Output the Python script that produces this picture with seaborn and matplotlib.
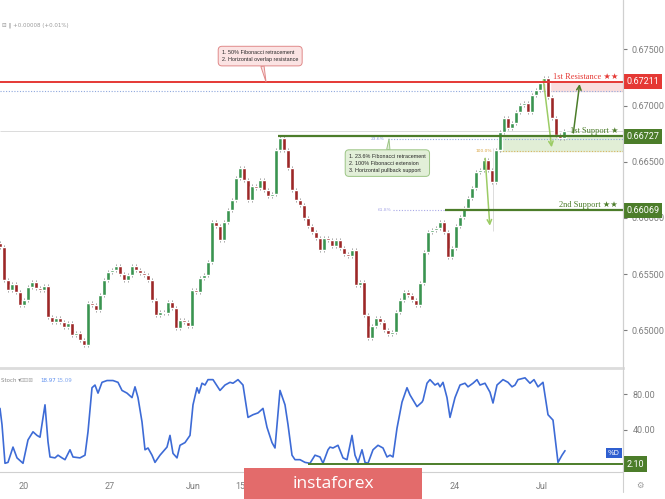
import numpy as np
import pandas as pd
import seaborn as sns
import matplotlib.pyplot as plt
from matplotlib.patches import Rectangle
from matplotlib.lines import Line2D

# 4H closes, one per bar (bar 0 = left edge of the chart)
closes = [0.65741, 0.65448, 0.65359, 0.65412, 0.65341, 0.65225, 0.65270, 0.65385, 0.65430, 0.65376,
          0.65359, 0.65394, 0.65118, 0.65074, 0.65109, 0.65074, 0.65029, 0.65065, 0.64958, 0.64976,
          0.64914, 0.64869, 0.65243, 0.65225, 0.65181, 0.65314, 0.65448, 0.65519, 0.65536, 0.65572,
          0.65501, 0.65448, 0.65492, 0.65572, 0.65536, 0.65510, 0.65492, 0.65448, 0.65270, 0.65136,
          0.65163, 0.65154, 0.65252, 0.65198, 0.65020, 0.65092, 0.65074, 0.65038, 0.65359, 0.65341,
          0.65465, 0.65492, 0.65608, 0.65963, 0.65928, 0.65803, 0.65963, 0.66070, 0.66159, 0.66355,
          0.66444, 0.66337, 0.66159, 0.66284, 0.66266, 0.66337, 0.66248, 0.66195, 0.66213, 0.66604,
          0.66711, 0.66604, 0.66444, 0.66248, 0.66159, 0.66115, 0.65999, 0.65928, 0.65875, 0.65821,
          0.65714, 0.65821, 0.65803, 0.65750, 0.65803, 0.65732, 0.65679, 0.65661, 0.65714, 0.65403,
          0.65430, 0.65136, 0.64931, 0.65038, 0.65109, 0.65074, 0.65003, 0.64967, 0.64985, 0.65163,
          0.65270, 0.65341, 0.65314, 0.65270, 0.65225, 0.65421, 0.65697, 0.65875, 0.65892, 0.65910,
          0.65963, 0.65875, 0.65652, 0.65732, 0.65928, 0.66008, 0.66088, 0.66177, 0.66266, 0.66408,
          0.66426, 0.66515, 0.66426, 0.66319, 0.66604, 0.66764, 0.66889, 0.66800, 0.66844, 0.66942,
          0.67004, 0.67022, 0.66942, 0.67093, 0.67138, 0.67200, 0.67245, 0.67076, 0.66889, 0.66738,
          0.66711, 0.66773]
first_open = 0.65780

# stochastic (bar position, value)
stoch_bar = [0, 0.5, 1.25, 2, 3.25, 4.25, 5.75, 7, 8.25, 9.25,
             10, 11.25, 12, 12.5, 13.75, 14.5, 15.5, 16.25, 17.5, 18.25,
             20, 21.25, 22, 23, 23.75, 24.5, 25.5, 26.75, 28.25, 29.5,
             30.5, 31.75, 33, 33.75, 34.5, 35.5, 36.25, 37, 38, 38.75,
             40, 41.75, 42.5, 43.25, 44.25, 45, 46.25, 47.5, 48.25, 49.25,
             49.75, 50.5, 51.25, 52, 53.25, 55, 56.25, 57.5, 58.25, 59.5,
             60.75, 62, 63.25, 64.5, 65.75, 66.75, 68, 68.75, 70, 71.25,
             72, 73, 73.75, 75, 76.25, 77.5, 78.75, 80, 80.75, 82,
             82.5, 83.25, 84.5, 85.75, 86.75, 88, 88.75, 89.5, 90.5, 91.25,
             92, 93.25, 94.5, 95.75, 96.75, 97.5, 98.25, 99.25, 100.5, 101.75,
             102.5, 104.25, 105.5, 105.75, 106.75, 107.5, 108.75, 109.5, 110, 110.75,
             111.75, 112.5, 113.75, 115, 116.25, 117, 118.25, 119.25, 120, 121.25,
             122.5, 123.25, 124.25, 125.75, 127, 128, 128.75, 129.5, 131.25, 132.5,
             133.5, 134.5, 135.75, 137, 138.25, 139.5, 140.5, 141.25]
stoch_val = [64, 46, 3, 4, 21, 9, 3, 29, 38, 34,
             32, 68, 27, 10, 9, 12, 9, 7, 18, 10,
             9, 12, 38, 87, 90, 81, 93, 95, 95, 93,
             84, 81, 76, 88, 76, 49, 18, 20, 12, 4,
             12, 21, 34, 14, 9, 23, 26, 34, 68, 87,
             81, 92, 90, 96, 96, 84, 90, 93, 92, 96,
             90, 54, 57, 59, 64, 43, 26, 20, 84, 68,
             46, 12, 7, 7, 4, 3, 12, 10, 3, 18,
             21, 20, 23, 9, 7, 34, 12, 4, 18, 4,
             3, 18, 23, 20, 10, 12, 10, 42, 71, 87,
             79, 66, 71, 73, 92, 96, 90, 92, 88, 93,
             76, 54, 76, 90, 92, 88, 92, 96, 90, 92,
             82, 70, 90, 96, 93, 88, 90, 96, 98, 92,
             96, 88, 93, 57, 51, 4, 12, 17]

# key levels
res1 = 0.67211
sup1 = 0.66727
sup2 = 0.66069
stoch_low = 2.10
fib50 = 0.67129
fib236 = 0.66702
fib100 = 0.66600
fib618 = 0.66069
last_price = 0.66773

price_ticks = [0.650, 0.655, 0.660, 0.665, 0.670, 0.675]
stoch_ticks = [40, 80]
date_pos = [6, 27.5, 48.25, 61.5, 113.75, 135.5]
date_lab = ['20', '27', 'Jun', '15:00', '24', 'Jul']

sns.set_style('white')
plt.rcParams['font.family'] = ['DejaVu Sans']

df = pd.DataFrame({'close': closes})
df['bar'] = np.arange(len(df))
df['open'] = df['close'].shift(1).fillna(first_open)
df['top'] = df[['open', 'close']].max(axis=1)
df['bot'] = df[['open', 'close']].min(axis=1)
wick = 0.00016
up_col, dn_col = '#3a9450', '#9c2727'
df['col'] = np.where(df['close'] >= df['open'], up_col, dn_col)

W, H = 665, 499
fig = plt.figure(figsize=(W / 100, H / 100), dpi=100)
ax = fig.add_axes([0, (H - 368) / H, 623 / W, 368 / H])
ax2 = fig.add_axes([0, (H - 472) / H, 623 / W, 101 / H])
xmax = 155.75

# candles
ax.vlines(df['bar'], df['bot'] - wick, df['top'] + wick, color='#9a9a9a', lw=0.7, zorder=2)
ax.bar(df['bar'], (df['top'] - df['bot']).clip(lower=0.00005), bottom=df['bot'],
       width=0.8, color=df['col'], zorder=3)

# zones and levels
ax.fill_between([135.75, xmax], fib50, res1, color='#f9dede', zorder=1)
ax.fill_between([124.5, xmax], fib100, sup1, color='#e1eed6', zorder=1)
ax.hlines(last_price, 0, xmax, color='#d6d6d6', lw=0.6, zorder=1)
ax.hlines(fib50, 0, xmax, color='#8fa8dd', lw=0.8, linestyles=(0, (1, 1.5)), zorder=1)
ax.hlines(fib236, 97, xmax, color='#8fa8dd', lw=0.8, linestyles=(0, (1, 1.5)), zorder=1)
ax.hlines(fib100, 124.25, xmax, color='#d9b35f', lw=0.8, linestyles=(0, (1, 1.5)), zorder=1)
ax.hlines(fib618, 98.25, 111.25, color='#a9a9e6', lw=0.8, linestyles=(0, (1, 1.5)), zorder=1)
ax.hlines(res1, 0, xmax, color='#e53935', lw=1.4, zorder=4)
ax.hlines(sup1, 69.5, xmax, color='#4c7d2a', lw=1.6, zorder=4)
ax.hlines(sup2, 111.25, xmax, color='#4c7d2a', lw=1.6, zorder=4)

ax.text(94.5, fib236, '23.6%', fontsize=3.2, color='#8a9ee0', ha='center', va='center')
ax.text(121, fib100, '100.0%', fontsize=3.2, color='#d9a441', ha='center', va='center')
ax.text(96.25, fib618, '61.8%', fontsize=3.2, color='#a6a6e6', ha='center', va='center')

serif = ['Liberation Serif', 'DejaVu Sans']
ax.text(154.5, res1 + 0.00008, '1st Resistance ★★', ha='right', va='bottom',
        color='#e53935', fontsize=6, family=serif, zorder=5)
ax.text(154.5, sup1 + 0.00008, '1st Support ★', ha='right', va='bottom',
        color='#4c7d2a', fontsize=6, family=serif, zorder=5)
ax.text(154.5, sup2 + 0.00008, '2nd Support ★★', ha='right', va='bottom',
        color='#4c7d2a', fontsize=6, family=serif, zorder=5)

# move arrows
ax.vlines(123.25, 0.65880, 0.66620, color='#cfcfcf', lw=0.5, zorder=2)
ax.annotate('', xy=(122.5, 0.65906), xytext=(121.25, 0.66555),
            arrowprops=dict(arrowstyle='->', color='#9ccc65', lw=1.1, mutation_scale=8))
ax.annotate('', xy=(138, 0.66604), xytext=(135.75, 0.67253),
            arrowprops=dict(arrowstyle='->', color='#9ccc65', lw=1.1, mutation_scale=8))
ax.annotate('', xy=(145, res1 + 0.00005), xytext=(143.25, sup1 + 0.00005),
            arrowprops=dict(arrowstyle='->', color='#4c7d2a', lw=1.1, mutation_scale=8))

# callouts
ax.annotate('1. 50% Fibonacci retracement\n2. Horizontal overlap resistance',
            xy=(66.5, res1), xytext=(55.5, 0.67440), ha='left', va='center',
            fontsize=3.9, family='Liberation Sans', linespacing=1.5, zorder=6,
            bbox=dict(boxstyle='round,pad=0.7', fc='#fbe3e3', ec='#e08a8a', lw=0.7),
            arrowprops=dict(arrowstyle='wedge,tail_width=0.6', fc='#fbe3e3', ec='#e08a8a',
                            lw=0.7, shrinkA=0, shrinkB=0))
ax.annotate('1. 23.6% Fibonacci retracement\n2. 100% Fibonacci extension\n3. Horizontal pullback support',
            xy=(97.25, fib236), xytext=(87.25, 0.66488), ha='left', va='center',
            fontsize=3.9, family='Liberation Sans', linespacing=1.5, zorder=6,
            bbox=dict(boxstyle='round,pad=0.7', fc='#e2efd8', ec='#9cc585', lw=0.7),
            arrowprops=dict(arrowstyle='wedge,tail_width=0.6', fc='#e2efd8', ec='#9cc585',
                            lw=0.7, shrinkA=0, shrinkB=0))

# right price boxes
for lvl, fc in [(res1, '#e53935'), (sup1, '#4c7d2a'), (sup2, '#4c7d2a')]:
    ax.text(1.005, lvl, f'{lvl:.5f}', transform=ax.get_yaxis_transform(), ha='left', va='center',
            color='white', fontsize=6.5, family='Roboto', clip_on=False, zorder=6,
            bbox=dict(boxstyle='square,pad=0.35', fc=fc, ec='none'))

ax.set_xlim(0, xmax)
ax.set_ylim(0.64665, 0.67939)
ax.yaxis.tick_right()
ax.set_yticks(price_ticks)
ax.set_yticklabels([f'{t:.5f}' for t in price_ticks])
ax.set_xticks([])
ax.tick_params(axis='y', length=3, pad=3, labelsize=6.5, colors='#7d7d7d')
for t in ax.get_yticklabels():
    t.set_family('Roboto')
for s in ['top', 'left']:
    ax.spines[s].set_visible(False)
ax.spines['right'].set_color('#d0d0d0')
ax.spines['right'].set_linewidth(0.8)
ax.spines['bottom'].set_color('#dcdcdc')
ax.spines['bottom'].set_linewidth(2)

# stochastic pane
sdf = pd.DataFrame({'bar': stoch_bar, 'val': stoch_val})
sns.lineplot(data=sdf, x='bar', y='val', ax=ax2, color='#3d6bd6', lw=1.2)
ax2.hlines(stoch_low, 77, xmax, color='#4c7d2a', lw=1.4, zorder=4)
ax2.text(153.5, 14.5, '%D', ha='center', va='center', color='white', fontsize=5, zorder=6,
         bbox=dict(boxstyle='square,pad=0.35', fc='#2f5fd0', ec='none'))
ax2.text(1.005, stoch_low, f'{stoch_low:.2f}', transform=ax2.get_yaxis_transform(), ha='left',
         va='center', color='white', fontsize=6.5, family='Roboto', clip_on=False, zorder=6,
         bbox=dict(boxstyle='square,pad=0.35', fc='#4c7d2a', ec='none'))
ax2.set_xlim(0, xmax)
ax2.set_ylim(-6.7, 105.6)
ax2.yaxis.tick_right()
ax2.set_yticks(stoch_ticks)
ax2.set_yticklabels([f'{t:.2f}' for t in stoch_ticks])
ax2.set_xticks(date_pos)
ax2.set_xticklabels(date_lab)
ax2.set_xlabel('')
ax2.set_ylabel('')
ax2.tick_params(axis='both', length=3, pad=4, labelsize=6.5, colors='#7d7d7d')
for t in ax2.get_yticklabels() + ax2.get_xticklabels():
    t.set_family('Roboto')
for s in ['top', 'left']:
    ax2.spines[s].set_visible(False)
for s in ['right', 'bottom']:
    ax2.spines[s].set_color('#d0d0d0')
    ax2.spines[s].set_linewidth(0.8)

# headers
fig.text(2 / W, 1 - 25 / H, '⊟ ‖ +0.00008 (+0.01%)', fontsize=4, color='#9a9a9a', va='center')
fig.text(1 / W, 1 - 380 / H, 'Stoch ▾', fontsize=4, color='#8a8a8a', va='center')
fig.text(20 / W, 1 - 380 / H, '⊟⊟⊠', fontsize=4, color='#b0b0b0', va='center')
fig.text(40 / W, 1 - 380 / H, '18.97', fontsize=4, color='#5b8def', va='center')
fig.text(56 / W, 1 - 380 / H, '15.09', fontsize=4, color='#7fa6f0', va='center')
fig.text(640 / W, 1 - 485 / H, '⚙', fontsize=6, color='#9a9a9a', ha='center', va='center')

# right border and watermark
fig.add_artist(Line2D([623 / W, 623 / W], [1 - 492 / H, 1], color='#d0d0d0', lw=0.8))
fig.add_artist(Rectangle((244 / W, 0), 178 / W, 31 / H, transform=fig.transFigure,
                         fc='#e36b6b', ec='none', zorder=10))
fig.text(333 / W, 1 - 484 / H, 'instaforex', color='white', fontsize=12.5, family='Open Sans',
         ha='center', va='center', zorder=11)

fig.savefig('out.png', dpi=100)
